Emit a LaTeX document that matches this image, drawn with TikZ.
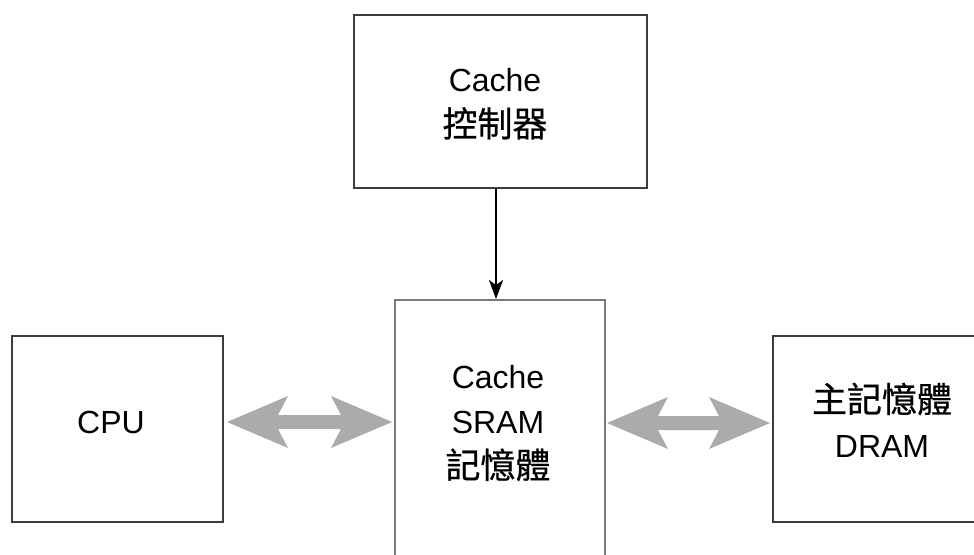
\documentclass[tikz,border=0pt]{standalone}
\usepackage{fontspec}
\setmainfont{Liberation Sans}
\newfontfamily\cjk[FakeBold=0.6]{Noto Sans CJK TC}
\usetikzlibrary{arrows.meta,calc}

\definecolor{edge}{HTML}{3C3C3C}
\definecolor{edgelight}{HTML}{7A7A7A}
\definecolor{busgray}{HTML}{ABABAB}

\tikzset{
  block/.style={draw=edge, line width=2pt, fill=white, inner sep=0pt},
  blocklight/.style={block, draw=edgelight},
  txt/.style={align=center, inner sep=0pt, font=\fontsize{32}{45}\selectfont},
  ctrlarrow/.style={line width=1.6pt, -{Stealth[length=19pt,width=14pt,inset=5pt]}},
}
\newcommand\hanzi[1]{{\fontsize{35}{45}\selectfont\cjk #1}}

% broad grey two-way bus arrow between two tip points
\newcommand\busarrow[2]{%
  \fill[busgray] let \p1=(#1), \p2=(#2) in
    (\p1) -- (\x1+61pt,\y1+26pt) -- (\x1+51pt,\y1+7pt)
    -- (\x2-51pt,\y1+7pt) -- (\x2-61pt,\y1+26pt) -- (\p2)
    -- (\x2-61pt,\y1-26pt) -- (\x2-51pt,\y1-7pt)
    -- (\x1+51pt,\y1-7pt) -- (\x1+61pt,\y1-26pt) -- cycle;}

\begin{document}
\begin{tikzpicture}[x=1pt,y=-1pt]
  \useasboundingbox (0,0) rectangle (974,554);
  \clip (0,0) rectangle (974,554);

  % boxes
  \node[block, minimum width=293pt, minimum height=173pt] (ctrl) at (500.5,101.5) {};
  \node[blocklight, minimum width=210pt, minimum height=300pt] (sram) at (500,450) {};
  \node[block, minimum width=211pt, minimum height=186pt] (cpu) at (117.5,429) {};
  \node[block, minimum width=240pt, minimum height=186pt] (dram) at (893,429) {};

  % labels
  \node[txt] (ctrltxt) at (495,104) {Cache\\\hanzi{控制器}};
  \node[txt] (sramtxt) at (498,423) {Cache\\SRAM\\\hanzi{記憶體}};
  \node[txt] (cputxt) at (111,422) {CPU};
  \node[txt] (dramtxt) at (882,420) {\hanzi{主記憶體}\\DRAM};

  % controller drives the SRAM
  \coordinate (ax) at (496,0);
  \draw[ctrlarrow] (ctrl.south -| ax) -- (sram.north -| ax);

  % data buses
  \coordinate (b1l) at (227,422);
  \coordinate (b1r) at (392,422);
  \coordinate (b2l) at (607,423);
  \coordinate (b2r) at (770,423);
  \busarrow{b1l}{b1r}
  \busarrow{b2l}{b2r}
\end{tikzpicture}
\end{document}
